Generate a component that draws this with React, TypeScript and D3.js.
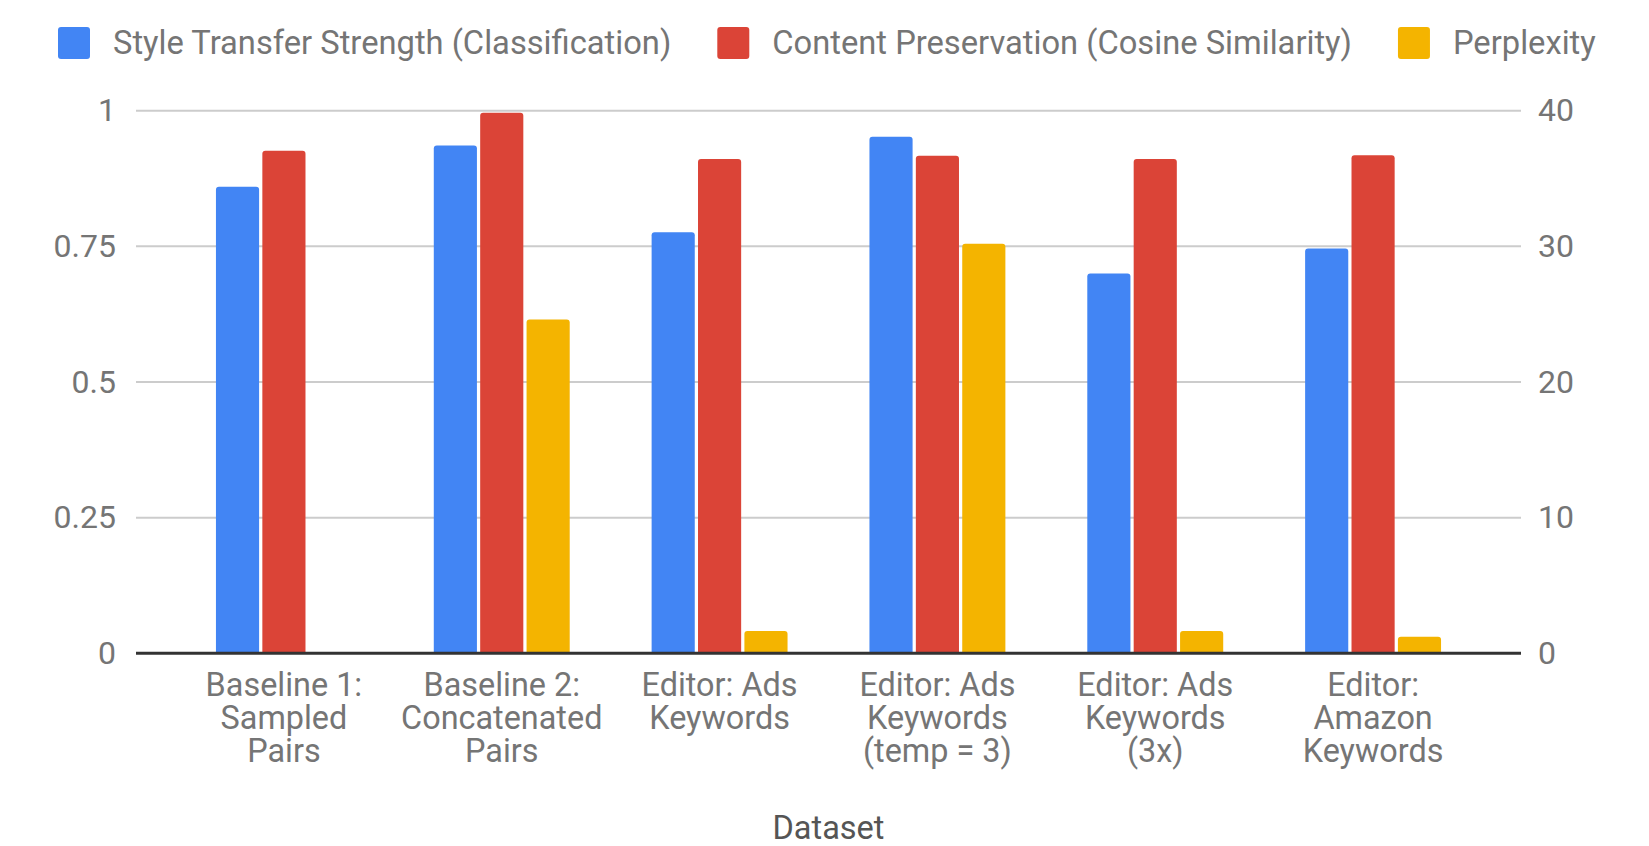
import React, { useRef, useEffect } from 'react';
import * as d3 from 'd3';

// category labels, one entry per line of the wrapped tick label
const categories = [
  ['Baseline 1:', 'Sampled', 'Pairs'],
  ['Baseline 2:', 'Concatenated', 'Pairs'],
  ['Editor: Ads', 'Keywords'],
  ['Editor: Ads', 'Keywords', '(temp = 3)'],
  ['Editor: Ads', 'Keywords', '(3x)'],
  ['Editor:', 'Amazon', 'Keywords'],
];

const seriesNames = [
  'Style Transfer Strength (Classification)',
  'Content Preservation (Cosine Similarity)',
  'Perplexity',
];

const styleStrength = [0.86, 0.936, 0.776, 0.952, 0.7, 0.746];
const contentPreservation = [0.926, 0.996, 0.911, 0.917, 0.911, 0.918];
const perplexity = [0, 24.6, 1.64, 30.2, 1.64, 1.22];

const leftTicks = [0, 0.25, 0.5, 0.75, 1];
const rightTicks = [0, 10, 20, 30, 40];

const colors = ['#4285f4', '#db4437', '#f4b400'];

const font = 'Roboto, "Noto Sans", sans-serif';

const topRounded = (x: number, y: number, w: number, h: number, r: number) => {
  const rr = Math.min(r, h, w / 2);
  return `M${x},${y + h}V${y + rr}Q${x},${y} ${x + rr},${y}H${x + w - rr}Q${x + w},${y} ${x + w},${y + rr}V${y + h}Z`;
};

const App: React.FC = () => {
  const svgRef = useRef<SVGSVGElement>(null);
  const width = 1649;
  const height = 846;

  useEffect(() => {
    if (!svgRef.current) return;
    const svg = d3.select(svgRef.current);
    svg.selectAll('*').remove();

    const plotLeft = 136;
    const plotRight = 1521;
    const y0 = 653.3;
    const y1 = 110.7;

    const x0 = d3.scaleBand<number>()
      .domain(categories.map((_, i) => i))
      .range([175, 1482])
      .paddingInner(0.376)
      .paddingOuter(0.188);

    const x1 = d3.scaleBand<number>()
      .domain([0, 1, 2])
      .range([0, x0.bandwidth()])
      .paddingInner(0.07);

    const yLeft = d3.scaleLinear().domain([0, 1]).range([y0, y1]);
    const yRight = d3.scaleLinear().domain([0, 40]).range([y0, y1]);

    // gridlines
    svg.append('g')
      .selectAll('line')
      .data(leftTicks.filter(d => d !== 0))
      .enter()
      .append('line')
      .attr('x1', plotLeft)
      .attr('x2', plotRight)
      .attr('y1', d => yLeft(d))
      .attr('y2', d => yLeft(d))
      .attr('stroke', '#cccccc')
      .attr('stroke-width', 2);

    // bars
    const series = [styleStrength, contentPreservation, perplexity];
    series.forEach((vals, s) => {
      const yScale = s === 2 ? yRight : yLeft;
      const rows = vals.map((v, i) => ({ v, i })).filter(d => d.v > 0);
      svg.append('g')
        .selectAll('path')
        .data(rows)
        .enter()
        .append('path')
        .attr('d', d => {
          const x = (x0(d.i) || 0) + (x1(s) || 0);
          const y = yScale(d.v);
          return topRounded(x, y, x1.bandwidth(), y0 - y, 3);
        })
        .attr('fill', colors[s]);
    });

    // baseline
    svg.append('line')
      .attr('x1', plotLeft)
      .attr('x2', plotRight)
      .attr('y1', y0)
      .attr('y2', y0)
      .attr('stroke', '#333333')
      .attr('stroke-width', 3);

    // left axis labels
    const leftAxis = svg.append('g')
      .attr('transform', `translate(${plotLeft},0)`)
      .call(d3.axisLeft(yLeft).tickValues(leftTicks).tickSize(0).tickPadding(20).tickFormat(d => String(d)));
    leftAxis.select('.domain').remove();
    leftAxis.selectAll('text')
      .attr('font-family', font)
      .attr('font-size', 32)
      .attr('fill', '#757575');

    // right axis labels
    const rightAxis = svg.append('g')
      .attr('transform', `translate(${plotRight},0)`)
      .call(d3.axisRight(yRight).tickValues(rightTicks).tickSize(0).tickPadding(17).tickFormat(d => String(d)));
    rightAxis.select('.domain').remove();
    rightAxis.selectAll('text')
      .attr('font-family', font)
      .attr('font-size', 32)
      .attr('fill', '#757575');

    // category labels
    const catG = svg.append('g');
    categories.forEach((lines, i) => {
      const cx = (x0(i) || 0) + x0.bandwidth() / 2;
      lines.forEach((line, j) => {
        catG.append('text')
          .attr('x', cx)
          .attr('y', 685 + j * 33)
          .attr('dy', '0.35em')
          .attr('text-anchor', 'middle')
          .attr('font-family', font)
          .attr('font-size', 32.4)
          .attr('fill', '#757575')
          .text(line);
      });
    });

    // axis title
    svg.append('text')
      .attr('x', (plotLeft + plotRight) / 2)
      .attr('y', 828)
      .attr('dy', '0.35em')
      .attr('text-anchor', 'middle')
      .attr('font-family', font)
      .attr('font-size', 32.5)
      .attr('fill', '#555555')
      .text('Dataset');

    // legend
    const legend = svg.append('g');
    let lx = 58;
    seriesNames.forEach((name, s) => {
      legend.append('rect')
        .attr('x', lx)
        .attr('y', 27)
        .attr('width', 32)
        .attr('height', 32)
        .attr('rx', 3)
        .attr('fill', colors[s]);
      const txt = legend.append('text')
        .attr('x', lx + 55)
        .attr('y', 43)
        .attr('dy', '0.35em')
        .attr('font-family', font)
        .attr('font-size', 32.7)
        .attr('fill', '#757575')
        .text(name);
      const len = (txt.node() as SVGTextElement).getComputedTextLength();
      lx = lx + 55 + len + 46;
    });
  }, []);

  return (
    <div style={{ position: 'absolute', left: 0, top: 0, width, height, background: '#fff' }}>
      <svg ref={svgRef} width={width} height={height} style={{ display: 'block' }} />
    </div>
  );
};

export default App;
